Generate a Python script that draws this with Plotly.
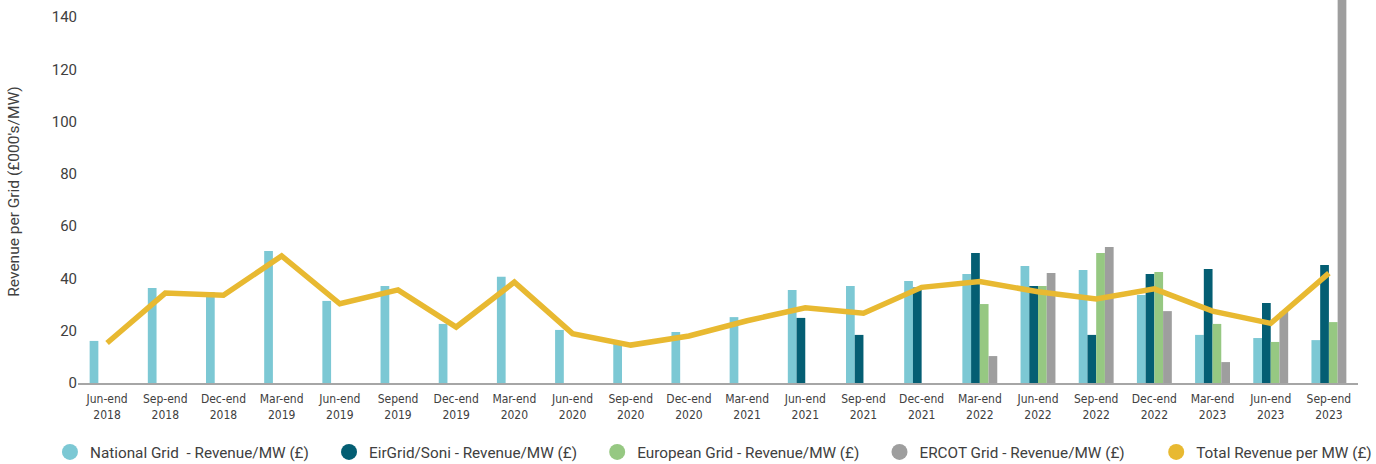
import plotly.graph_objects as go

categories = ["Jun-end<br>2018", "Sep-end<br>2018", "Dec-end<br>2018", "Mar-end<br>2019",
              "Jun-end<br>2019", "Sepend<br>2019", "Dec-end<br>2019", "Mar-end<br>2020",
              "Jun-end<br>2020", "Sep-end<br>2020", "Dec-end<br>2020", "Mar-end<br>2021",
              "Jun-end<br>2021", "Sep-end<br>2021", "Dec-end<br>2021", "Mar-end<br>2022",
              "Jun-end<br>2022", "Sep-end<br>2022", "Dec-end<br>2022", "Mar-end<br>2023",
              "Jun-end<br>2023", "Sep-end<br>2023"]

national_grid = [16.1, 36.3, 34.8, 50.5, 31.4, 37.1, 22.6, 40.6, 20.3, 15.3, 19.5, 25.2,
                 35.6, 37.1, 39.0, 41.7, 44.8, 43.2, 33.7, 18.4, 17.2, 16.4]
eirgrid_soni = [None] * 12 + [24.9, 18.4, 36.5, 49.7, 37.1, 18.4, 41.7, 43.6, 30.6, 45.1]
european_grid = [None] * 15 + [30.2, 37.1, 49.7, 42.5, 22.6, 15.7, 23.3]
ercot_grid = [None] * 15 + [10.3, 42.1, 52.0, 27.5, 8.0, 27.2, 160.0]
total_revenue = [15.3, 34.4, 33.6, 48.6, 30.3, 35.6, 21.4, 38.6, 18.9, 14.5, 18.0, 23.8,
                 28.8, 26.7, 36.6, 38.8, 34.9, 32.1, 36.0, 27.5, 22.8, 42.0]

names = ["National Grid  - Revenue/MW (£)", "EirGrid/Soni - Revenue/MW (£)",
         "European Grid - Revenue/MW (£)", "ERCOT Grid - Revenue/MW (£)",
         "Total Revenue per MW (£)"]
legend_pad = [4, 4, 4, 7, 0]
colors = ["#7CC8D4", "#045E73", "#96C882", "#9E9E9E", "#E8B931"]

fig = go.Figure()
for vals, nm, col in zip([national_grid, eirgrid_soni, european_grid, ercot_grid], names[:4], colors[:4]):
    fig.add_trace(go.Bar(x=categories, y=vals, name=nm, marker_color=col,
                         marker_line_width=0, showlegend=False))

fig.add_trace(go.Scatter(x=categories, y=total_revenue, mode="lines", name=names[4],
                         line=dict(color=colors[4], width=5.5), showlegend=False))

# legend entries with circular markers
for nm, col, pad in zip(names, colors, legend_pad):
    fig.add_trace(go.Scatter(x=[None], y=[None], mode="markers", name=nm + "\u00a0" * pad,
                             marker=dict(color=col, size=20, symbol="circle")))

fig.update_layout(
    width=1376, height=464,
    margin=dict(l=78, r=18, t=0, b=81, autoexpand=False),
    paper_bgcolor="white", plot_bgcolor="white",
    barmode="group", bargap=0.40, bargroupgap=0,
    font=dict(family="Roboto, Liberation Sans, Arial", color="#404040"),
    legend=dict(orientation="h", x=-0.0219, y=-0.180, xanchor="left", yanchor="middle",
                font=dict(size=15.3, color="#404040"),
                itemsizing="trace"),
    xaxis=dict(showline=True, linecolor="#A6A6A6", linewidth=2, ticks="",
               tickfont=dict(size=12, family="Liberation Sans Narrow, DejaVu Sans Condensed, Roboto Condensed, Arial Narrow",
                             color="#404040"),
               ticklabelstandoff=4,
               tickangle=0, showgrid=False),
    yaxis=dict(range=[0, 146.5], tickvals=[0, 20, 40, 60, 80, 100, 120, 140],
               showgrid=False, zeroline=False, showline=False,
               tickfont=dict(size=15, color="#404040"),
               title=dict(text="Revenue per Grid (£000's/MW)", font=dict(size=15.5, color="#404040"),
                          standoff=28)),
)

fig.write_html("out.html")
